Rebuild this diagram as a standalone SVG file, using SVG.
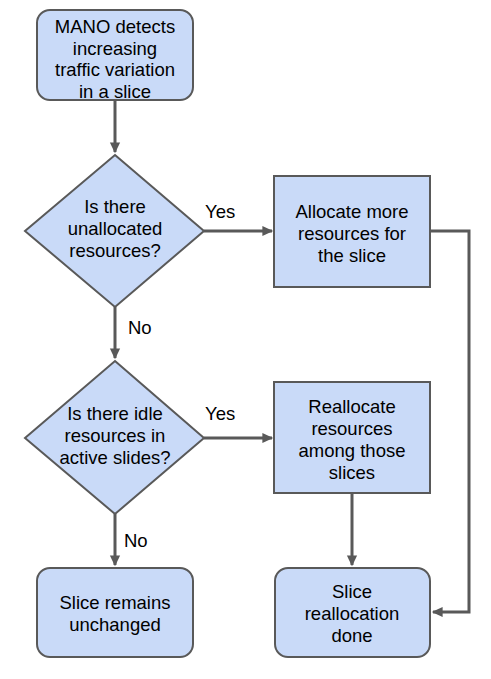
<svg xmlns="http://www.w3.org/2000/svg" width="491" height="679" viewBox="0 0 491 679">
<style>
.n{fill:#c9daf8;stroke:#595959;stroke-width:2}
.t{font-family:"Liberation Sans",Arial,sans-serif;font-size:18.5px;fill:#000;text-anchor:middle}
.c{fill:none;stroke:#595959;stroke-width:3}
.l{font-family:"Liberation Sans",Arial,sans-serif;font-size:18.5px;fill:#000}
</style>
<defs>
<marker id="a" markerWidth="4" markerHeight="4" refX="3.2" refY="2" orient="auto" markerUnits="strokeWidth">
<path d="M0,0.3 L3.6,2 L0,3.7 z" fill="#595959"/>
</marker>
</defs>
<rect width="491" height="679" fill="#fff"/>
<g id="connectors">
<path class="c" d="M115,101 V152" marker-end="url(#a)"/>
<path class="c" d="M204,231 H272" marker-end="url(#a)"/>
<path class="c" d="M115,307 V358" marker-end="url(#a)"/>
<path class="c" d="M204,438 H272" marker-end="url(#a)"/>
<path class="c" d="M115,514 V565" marker-end="url(#a)"/>
<path class="c" d="M352,494 V565" marker-end="url(#a)"/>
<path class="c" d="M431,231 H469 V612 H433" marker-end="url(#a)"/>
<text class="l" x="205" y="218">Yes</text>
<text class="l" x="128" y="334">No</text>
<text class="l" x="205" y="420">Yes</text>
<text class="l" x="124" y="547">No</text>
</g>
<g id="start">
<rect class="n" x="37" y="10" width="156" height="90" rx="13"/>
<text class="t" x="115" y="33">MANO detects</text>
<text class="t" x="115" y="54.5">increasing</text>
<text class="t" x="115" y="76">traffic variation</text>
<text class="t" x="115" y="97.5">in a slice</text>
</g>
<g id="decision1">
<path class="n" d="M115,155 L204,231 L115,307 L25,231 Z"/>
<text class="t" x="115" y="213">Is there</text>
<text class="t" x="115" y="235">unallocated</text>
<text class="t" x="115" y="257">resources?</text>
</g>
<g id="allocate">
<rect class="n" x="274" y="176" width="156" height="111"/>
<text class="t" x="352" y="218">Allocate more</text>
<text class="t" x="352" y="240">resources for</text>
<text class="t" x="352" y="262">the slice</text>
</g>
<g id="decision2">
<path class="n" d="M115,361 L204,438 L115,514 L25,438 Z"/>
<text class="t" x="115" y="420">Is there idle</text>
<text class="t" x="115" y="442">resources in</text>
<text class="t" x="115" y="464">active slides?</text>
</g>
<g id="reallocate">
<rect class="n" x="274" y="382" width="156" height="111"/>
<text class="t" x="352" y="413">Reallocate</text>
<text class="t" x="352" y="435">resources</text>
<text class="t" x="352" y="457">among those</text>
<text class="t" x="352" y="479">slices</text>
</g>
<g id="unchanged">
<rect class="n" x="37" y="568" width="156" height="89" rx="13"/>
<text class="t" x="115" y="609">Slice remains</text>
<text class="t" x="115" y="631">unchanged</text>
</g>
<g id="done">
<rect class="n" x="275" y="568" width="155" height="89" rx="13"/>
<text class="t" x="352" y="598">Slice</text>
<text class="t" x="352" y="620">reallocation</text>
<text class="t" x="352" y="642">done</text>
</g>
</svg>
